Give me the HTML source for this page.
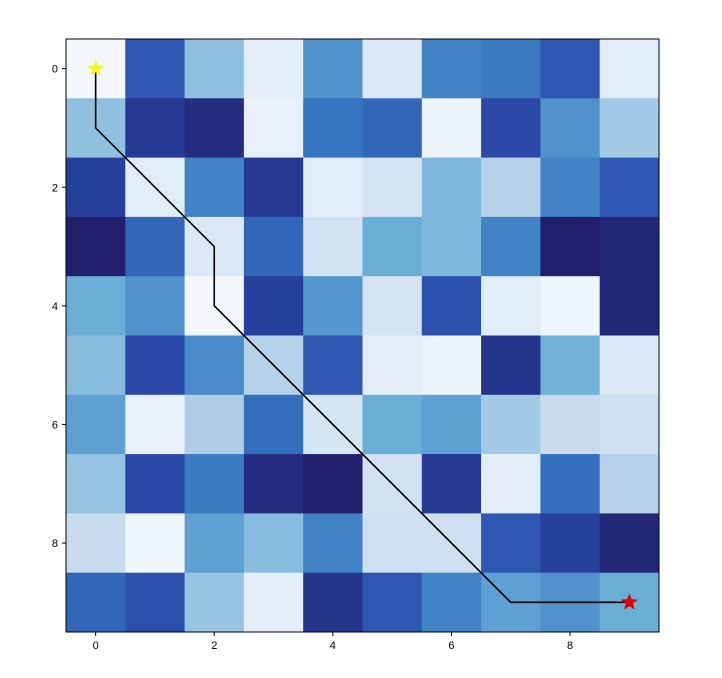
<!DOCTYPE html>
<html><head><meta charset="utf-8"><style>
body{margin:0;background:#fff;font-family:"Liberation Sans",sans-serif}
</style></head><body>
<svg id="c" width="722" height="673" xmlns="http://www.w3.org/2000/svg"></svg>
<script>
const rows=[
[0.02,0.8,0.4,0.1,0.6,0.15,0.65,0.68,0.8,0.12],
[0.4,0.9,0.95,0.08,0.7,0.75,0.06,0.85,0.6,0.35],
[0.88,0.12,0.65,0.9,0.12,0.18,0.45,0.3,0.65,0.8],
[1.0,0.75,0.15,0.75,0.2,0.5,0.45,0.65,1.0,0.97],
[0.5,0.6,0.02,0.88,0.58,0.18,0.82,0.12,0.04,0.97],
[0.42,0.85,0.62,0.3,0.8,0.1,0.06,0.92,0.48,0.15],
[0.55,0.08,0.32,0.72,0.18,0.5,0.55,0.35,0.25,0.22],
[0.38,0.85,0.68,0.95,1.0,0.2,0.9,0.1,0.72,0.3],
[0.25,0.04,0.55,0.42,0.65,0.22,0.22,0.8,0.88,0.97],
[0.75,0.82,0.38,0.1,0.92,0.8,0.65,0.55,0.6,0.5]];
const pathX=[0,0,2,2,7,9];
const pathY=[0,1,3,4,9,9];
const ticks=[0,2,4,6,8];
const start=[0,0], goal=[9,9];

const L=66,T=39,W=593,H=593,n=10,cw=W/n;
const sx=v=>L+(v+0.5)*cw, sy=v=>T+(v+0.5)*cw;
const stops=[[0,[247,251,255]],[0.25,[200,219,239]],[0.5,[106,174,214]],[0.7,[53,117,192]],[0.85,[41,72,168]],[1,[33,31,107]]];
function col(v){for(let i=1;i<stops.length;i++){if(v<=stops[i][0]){const a=stops[i-1],b=stops[i],t=(v-a[0])/(b[0]-a[0]);return 'rgb('+a[1].map((c,k)=>Math.round(c+(b[1][k]-c)*t)).join(',')+')';}}return 'rgb(33,31,107)';}
const svg=document.getElementById('c');const NS='http://www.w3.org/2000/svg';
function mk(t,a){const e=document.createElementNS(NS,t);for(const k in a)e.setAttribute(k,a[k]);svg.appendChild(e);return e;}
rows.forEach((r,i)=>r.forEach((v,j)=>{const e=mk('rect',{x:L+j*cw,y:T+i*cw,width:cw+0.5,height:cw+0.5,fill:col(v)});

}));
const p=mk('polyline',{points:pathX.map((x,i)=>sx(x)+','+sy(pathY[i])).join(' '),fill:'none',stroke:'#000','stroke-width':1.6});


function star(cx,cy,r,f,name){let pts=[];for(let i=0;i<10;i++){const rr=i%2?r*0.42:r,a=-Math.PI/2+i*Math.PI/5;pts.push((cx+rr*Math.cos(a))+','+(cy+rr*Math.sin(a)));}
const e=mk('polygon',{points:pts.join(' '),fill:f});

}
star(sx(start[0]),sy(start[1]),9,'#f5f520','start-star');
star(sx(goal[0]),sy(goal[1]),9,'#e00000','goal-star');
const fr=mk('rect',{x:L,y:T,width:W,height:H,fill:'none',stroke:'#000','stroke-width':1});


ticks.forEach(t=>{
mk('line',{x1:sx(t),x2:sx(t),y1:T+H,y2:T+H+4,stroke:'#000'});
const a=mk('text',{x:sx(t),y:T+H+17,'font-size':11,'text-anchor':'middle'});a.textContent=t;


mk('line',{x1:L-4,x2:L,y1:sy(t),y2:sy(t),stroke:'#000'});
const b=mk('text',{x:L-8,y:sy(t)+4,'font-size':11,'text-anchor':'end'});b.textContent=t;


});
</script>
</body></html>
